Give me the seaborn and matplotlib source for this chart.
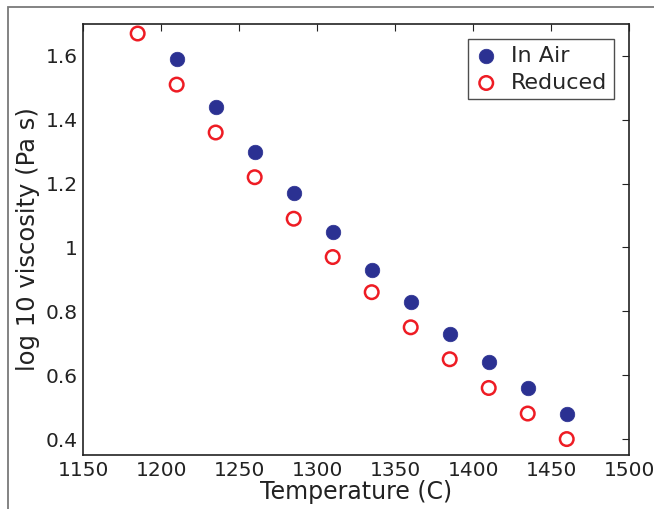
import matplotlib
matplotlib.use('Agg')
import matplotlib.pyplot as plt
import seaborn as sns
from matplotlib.patches import Rectangle

# данные
temp_air = [1210, 1235, 1260, 1285, 1310, 1335, 1360, 1385, 1410, 1435, 1460]
visc_air = [1.59, 1.44, 1.30, 1.17, 1.05, 0.93, 0.83, 0.73, 0.64, 0.56, 0.48]
temp_red = [1185, 1210, 1235, 1260, 1285, 1310, 1335, 1360, 1385, 1410, 1435, 1460]
visc_red = [1.67, 1.51, 1.36, 1.22, 1.09, 0.97, 0.86, 0.75, 0.65, 0.56, 0.48, 0.40]
xticks = [1150, 1200, 1250, 1300, 1350, 1400, 1450, 1500]
yticks = [0.4, 0.6, 0.8, 1.0, 1.2, 1.4, 1.6]
yticklabels = ['0.4', '0.6', '0.8', '1', '1.2', '1.4', '1.6']

sns.set_style('white')
plt.rcParams['font.family'] = ['DejaVu Sans']

fig = plt.figure(figsize=(6.54, 5.09), dpi=100)
ax = fig.add_axes([0.127, 0.106, 0.835, 0.847])

# рамка вокруг рисунка
fig.patches.append(Rectangle((8 / 654, -0.1), 1.2, 1.1 - 7 / 509, transform=fig.transFigure,
                             fill=False, edgecolor='#7a7a7a', linewidth=1.3))

sns.scatterplot(x=temp_air, y=visc_air, ax=ax, s=110, color='#2b3192',
                edgecolor='#2b3192', linewidth=0.5, label='In Air')
sns.scatterplot(x=temp_red, y=visc_red, ax=ax, s=95, facecolor='none',
                edgecolor='#ee1c24', linewidth=1.8, label='Reduced')

ax.set_xlim(1150, 1500)
ax.set_ylim(0.35, 1.7)
ax.set_xticks(xticks)
ax.set_yticks(yticks)
ax.set_yticklabels(yticklabels)
ax.tick_params(direction='in', length=5, width=0.8, top=True, right=True,
               labelsize=14.5, colors='#222222', pad=4)
for sp in ax.spines.values():
    sp.set_color('#222222')
    sp.set_linewidth(1.2)

ax.set_xlabel('Temperature (C)', fontsize=17, color='#222222', labelpad=0)
ax.set_ylabel('log 10 viscosity (Pa s)', fontsize=17.5, color='#222222', labelpad=4)

leg = ax.legend(loc='upper right', fontsize=16, frameon=True, fancybox=False,
                edgecolor='#222222', borderpad=0.3, handletextpad=0.6,
                handlelength=1.0, labelspacing=0.3, borderaxespad=0.7)
leg.get_frame().set_linewidth(1.0)

fig.savefig('out.png', dpi=100)
